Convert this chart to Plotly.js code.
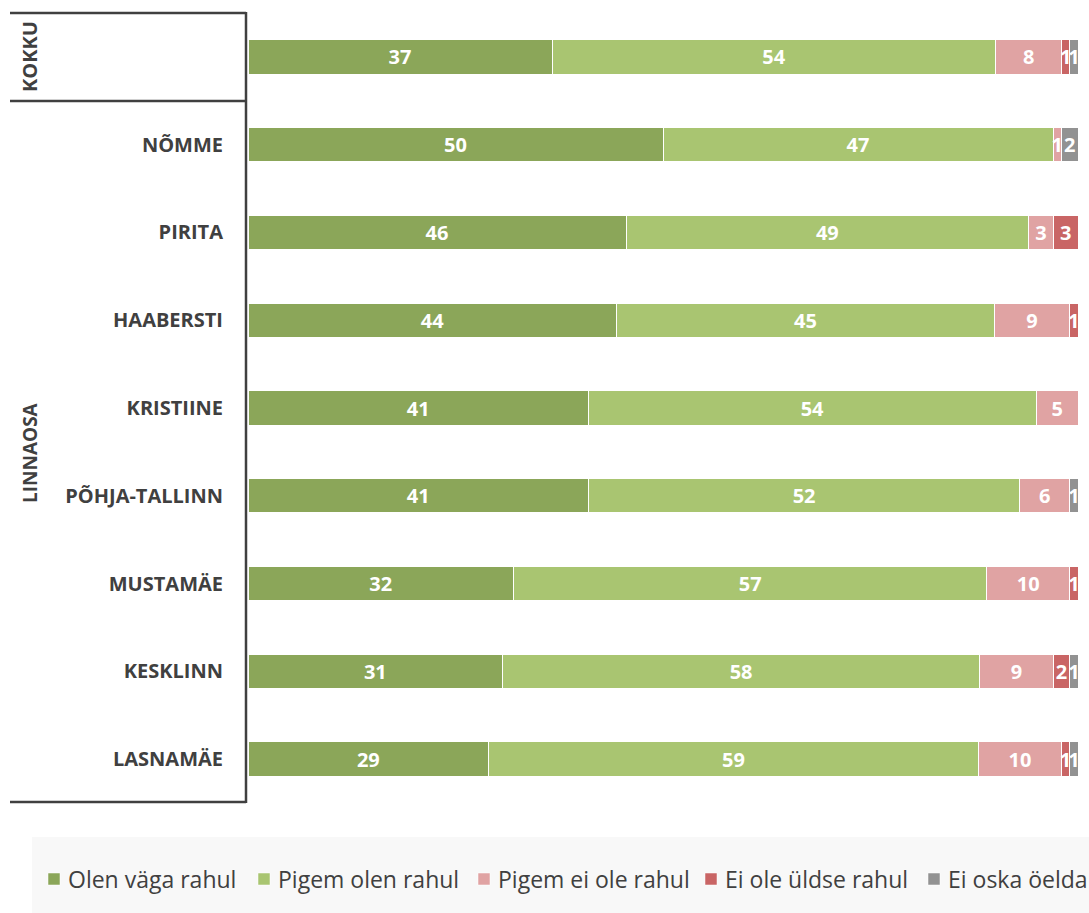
<!DOCTYPE html>
<html>
<head>
<meta charset="utf-8">
<script src="https://cdn.plot.ly/plotly-3.0.1.min.js"></script>
<style>html,body{margin:0;padding:0;background:#fff;}#chart{width:1089px;height:913px;}</style>
</head>
<body>
<div id="chart"></div>
<script>
const categories = ["KOKKU", "NÕMME", "PIRITA", "HAABERSTI", "KRISTIINE", "PÕHJA-TALLINN", "MUSTAMÄE", "KESKLINN", "LASNAMÄE"];
const groupLabels = ["KOKKU", "LINNAOSA"];
const seriesNames = ["Olen väga rahul", "Pigem olen rahul", "Pigem ei ole rahul", "Ei ole üldse rahul", "Ei oska öelda"];
const oleVagaRahul   = [37, 50, 46, 44, 41, 41, 32, 31, 29];
const pigemOlenRahul = [54, 47, 49, 45, 54, 52, 57, 58, 59];
const pigemEiOleRahul= [8, 1, 3, 9, 5, 6, 10, 9, 10];
const eiOleUldseRahul= [1, 0, 3, 1, 0, 0, 1, 2, 1];
const eiOskaOelda    = [1, 2, 0, 0, 0, 1, 0, 1, 1];
const colors = ["#8BA659", "#A9C571", "#E0A3A3", "#C96565", "#929292"];

const series = [oleVagaRahul, pigemOlenRahul, pigemEiOleRahul, eiOleUldseRahul, eiOskaOelda];
const traces = series.map((vals, i) => ({
  type: "bar",
  orientation: "h",
  name: seriesNames[i],
  y: categories,
  x: vals,
  text: vals.map(v => v === 0 ? "" : String(v)),
  textposition: "inside",
  insidetextanchor: "middle",
  constraintext: "none",
  textfont: {family: "Open Sans", size: 20, color: "#ffffff", weight: "bold"},
  marker: {color: colors[i], line: {color: "#ffffff", width: 1}},
  hoverinfo: "x+name",
  showlegend: false,
  width: 0.39
}));

const L = 248, R = 1078, T = 13, B = 803;
const px = x => (x - L) / (R - L);
const py = y => (B - y) / (B - T);
const lineStyle = {color: "#404040", width: 2.5};
const font = {family: "Open Sans", color: "#404040"};

// manual legend layout (positions only)
const legendSquareX = [48, 258, 478, 705, 928];
const legendY = 879;

const shapes = [
  {type: "rect", xref: "paper", yref: "paper", x0: px(32), x1: px(1089), y0: py(913), y1: py(837), fillcolor: "#f8f8f8", line: {width: 0}, layer: "below"},
  {type: "line", xref: "paper", yref: "paper", x0: px(10), x1: px(246), y0: py(13), y1: py(13), line: lineStyle},
  {type: "line", xref: "paper", yref: "paper", x0: px(10), x1: px(246), y0: py(101), y1: py(101), line: lineStyle},
  {type: "line", xref: "paper", yref: "paper", x0: px(10), x1: px(246), y0: py(802), y1: py(802), line: lineStyle},
  {type: "line", xref: "paper", yref: "paper", x0: px(246), x1: px(246), y0: py(12), y1: py(803), line: lineStyle}
];
const annotations = [
  {text: "<b>" + groupLabels[0] + "</b>", xref: "paper", yref: "paper", x: px(30), y: py(57), xanchor: "center", yanchor: "middle", textangle: -90, showarrow: false, font: Object.assign({size: 20}, font)},
  {text: "<b>" + groupLabels[1] + "</b>", xref: "paper", yref: "paper", x: px(30), y: py(453), xanchor: "center", yanchor: "middle", textangle: -90, showarrow: false, font: Object.assign({size: 19}, font)}
];
seriesNames.forEach((name, i) => {
  const sx = legendSquareX[i];
  shapes.push({type: "rect", xref: "paper", yref: "paper", x0: px(sx), x1: px(sx + 12), y0: py(legendY + 6), y1: py(legendY - 6), fillcolor: colors[i], line: {color: "rgba(255,255,255,0.5)", width: 1}});
  annotations.push({text: name, xref: "paper", yref: "paper", x: px(sx + 18), y: py(legendY), xanchor: "left", yanchor: "middle", showarrow: false, font: Object.assign({size: 23}, font)});
});

const layout = {
  width: 1089, height: 913,
  margin: {l: L, r: 1089 - R, t: T, b: 913 - B, autoexpand: false},
  paper_bgcolor: "#ffffff",
  plot_bgcolor: "#ffffff",
  barmode: "stack",
  barnorm: "percent",
  showlegend: false,
  xaxis: {visible: false, range: [0, 100], fixedrange: true},
  yaxis: {
    type: "category",
    autorange: "reversed",
    showgrid: false, zeroline: false, showline: false,
    ticks: "",
    tickvals: categories,
    ticktext: categories.map((c, i) => i === 0 ? "" : c),
    ticklabelstandoff: 24,
    automargin: false,
    tickfont: Object.assign({size: 20, weight: "bold"}, font)
  },
  shapes: shapes,
  annotations: annotations
};

Plotly.newPlot("chart", traces, layout, {displayModeBar: false, staticPlot: true});
</script>
</body>
</html>
